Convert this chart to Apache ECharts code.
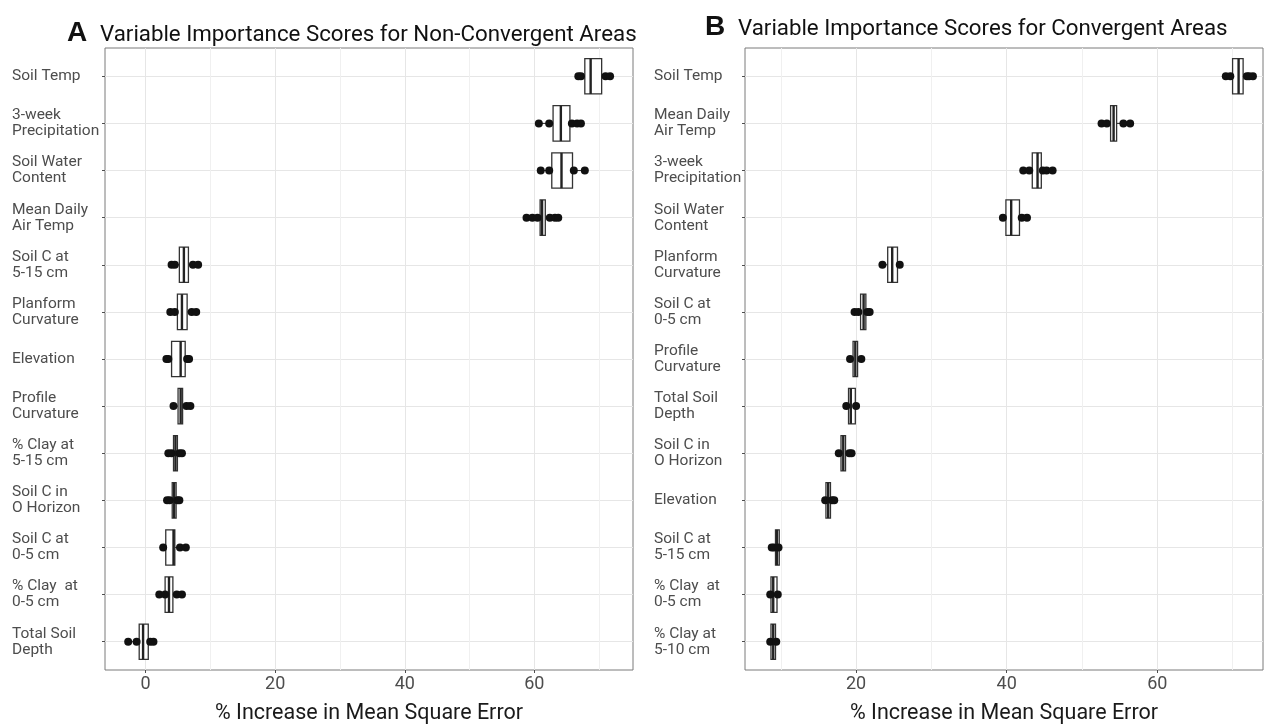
<!DOCTYPE html>
<html>
<head>
<meta charset="utf-8">
<script src="https://cdn.jsdelivr.net/npm/echarts@6/dist/echarts.min.js"></script>
<style>
html,body{margin:0;padding:0;background:#fff;}
#chart{width:1264px;height:724px;}
</style>
</head>
<body>
<div id="chart"></div>
<script>
// ---- Panel A: Non-Convergent Areas ----
const catsA = ['Soil Temp', '3-week\nPrecipitation', 'Soil Water\nContent', 'Mean Daily\nAir Temp',
  'Soil C at\n5-15 cm', 'Planform\nCurvature', 'Elevation', 'Profile\nCurvature', '% Clay at\n5-15 cm',
  'Soil C in\nO Horizon', 'Soil C at\n0-5 cm', '% Clay  at\n0-5 cm', 'Total Soil\nDepth'];
// [whisker low, Q1, median, Q3, whisker high]
const boxA = [
  [66.8, 67.8, 68.7, 70.4, 71.7],
  [60.7, 62.9, 64.1, 65.5, 67.2],
  [61.0, 62.7, 64.2, 65.9, 67.8],
  [58.8, 60.9, 61.2, 61.7, 63.7],
  [4.0, 5.2, 5.9, 6.6, 8.1],
  [3.8, 4.9, 5.6, 6.4, 7.8],
  [3.2, 4.0, 5.4, 6.1, 6.7],
  [4.3, 5.0, 5.4, 5.7, 6.9],
  [3.5, 4.3, 4.6, 4.9, 5.6],
  [3.3, 4.1, 4.4, 4.7, 5.2],
  [2.7, 3.1, 4.3, 4.5, 6.2],
  [2.1, 3.0, 3.6, 4.2, 5.6],
  [-2.7, -1.0, -0.4, 0.4, 1.2]
];
const dotsA = [
  [66.8, 67.2, 71.0, 71.7],
  [60.7, 62.3, 65.8, 66.6, 67.2],
  [61.0, 62.3, 66.1, 67.8],
  [58.8, 59.7, 60.5, 62.4, 63.2, 63.7],
  [4.0, 4.5, 7.3, 8.1],
  [3.8, 4.5, 7.1, 7.8],
  [3.2, 3.5, 6.4, 6.7],
  [4.3, 6.3, 6.9],
  [3.5, 4.0, 5.2, 5.6],
  [3.3, 3.7, 4.9, 5.2],
  [2.7, 5.3, 6.2],
  [2.1, 3.0, 4.8, 5.6],
  [-2.7, -1.4, 0.7, 1.2]
];
const ticksA = [0, 20, 40, 60];

// ---- Panel B: Convergent Areas ----
const catsB = ['Soil Temp', 'Mean Daily\nAir Temp', '3-week\nPrecipitation', 'Soil Water\nContent',
  'Planform\nCurvature', 'Soil C at\n0-5 cm', 'Profile\nCurvature', 'Total Soil\nDepth',
  'Soil C in\nO Horizon', 'Elevation', 'Soil C at\n5-15 cm', '% Clay  at\n0-5 cm', '% Clay at\n5-10 cm'];
const boxB = [
  [69.1, 70.0, 70.8, 71.4, 72.7],
  [52.6, 53.8, 54.2, 54.6, 56.4],
  [42.2, 43.4, 44.1, 44.6, 46.1],
  [39.5, 39.9, 40.6, 41.7, 42.7],
  [23.5, 24.2, 24.8, 25.5, 25.8],
  [19.8, 20.6, 21.0, 21.3, 21.8],
  [19.2, 19.6, 19.9, 20.2, 20.7],
  [18.7, 19.0, 19.3, 19.9, 20.0],
  [17.7, 18.0, 18.3, 18.6, 19.4],
  [15.9, 16.0, 16.3, 16.6, 17.1],
  [8.8, 9.3, 9.5, 9.8, 9.8],
  [8.6, 8.7, 9.0, 9.5, 9.6],
  [8.6, 8.7, 9.0, 9.3, 9.4]
];
const dotsB = [
  [69.1, 69.7, 71.9, 72.2, 72.7],
  [52.6, 53.3, 55.5, 56.4],
  [42.2, 43.0, 44.8, 45.3, 46.1],
  [39.5, 42.0, 42.7],
  [23.5, 25.8],
  [19.8, 20.3, 21.5, 21.8],
  [19.2, 20.7],
  [18.7, 20.0],
  [17.7, 19.1, 19.4],
  [15.9, 16.8, 17.1],
  [8.8, 9.1, 9.7],
  [8.6, 9.6],
  [8.6, 9.4]
];
const ticksB = [20, 40, 60];

const xTitle = '% Increase in Mean Square Error';
const catIdx = [0,1,2,3,4,5,6,7,8,9,10,11,12];

function renderBox(params, api) {
  const idx = api.value(0);
  const lo = api.coord([api.value(1), idx]);
  const q1 = api.coord([api.value(2), idx]);
  const md = api.coord([api.value(3), idx]);
  const q3 = api.coord([api.value(4), idx]);
  const hi = api.coord([api.value(5), idx]);
  const h = api.size([0, 1])[1] * 0.75;
  const y = md[1];
  const stroke = '#333333';
  return {
    type: 'group',
    children: [
      {type: 'line', shape: {x1: lo[0], y1: y, x2: q1[0], y2: y}, style: {stroke: stroke, lineWidth: 1.1}},
      {type: 'line', shape: {x1: q3[0], y1: y, x2: hi[0], y2: y}, style: {stroke: stroke, lineWidth: 1.1}},
      {type: 'rect', shape: {x: q1[0], y: y - h / 2, width: q3[0] - q1[0], height: h},
        style: {fill: '#ffffff', stroke: stroke, lineWidth: 1.3}},
      {type: 'line', shape: {x1: md[0], y1: y - h / 2, x2: md[0], y2: y + h / 2},
        style: {stroke: '#222222', lineWidth: 2.4}}
    ]
  };
}

function xAxisCfg(gridIndex, min, max, ticks) {
  return {
    type: 'value', gridIndex: gridIndex, min: min, max: max,
    minInterval: 20, maxInterval: 20,
    name: xTitle, nameLocation: 'middle', nameGap: 33,
    nameTextStyle: {fontFamily: 'Roboto', fontSize: 21.5, color: '#1a1a1a'},
    axisLine: {show: false, onZero: false},
    axisTick: {show: true, length: 3, customValues: ticks, lineStyle: {color: '#4d4d4d', width: 1}},
    axisLabel: {customValues: ticks, margin: 5, fontFamily: 'Roboto', fontSize: 18, color: '#4d4d4d'},
    splitLine: {show: true, lineStyle: {color: '#e6e6e6', width: 1}},
    minorTick: {show: false, splitNumber: 2},
    minorSplitLine: {show: true, lineStyle: {color: '#f0f0f0', width: 1}}
  };
}

function yAxisCfg(gridIndex, cats, margin) {
  return {
    type: 'value', gridIndex: gridIndex, inverse: true, min: -0.6, max: 12.6,
    minInterval: 1, maxInterval: 1,
    axisLine: {show: false, onZero: false},
    axisTick: {show: true, length: 3, customValues: catIdx, lineStyle: {color: '#4d4d4d', width: 1}},
    axisLabel: {
      customValues: catIdx, align: 'left', margin: margin,
      fontFamily: 'Roboto', fontSize: 15.5, lineHeight: 16, color: '#4d4d4d',
      formatter: function (v) { return cats[Math.round(v)] || ''; }
    },
    splitLine: {show: true, lineStyle: {color: '#e6e6e6', width: 1}}
  };
}

function dotData(dots) {
  const out = [];
  dots.forEach(function (arr, i) { arr.forEach(function (v) { out.push([v, i]); }); });
  return out;
}

const chart = echarts.init(document.getElementById('chart'), null, {renderer: 'canvas'});
chart.setOption({
  animation: false,
  backgroundColor: '#ffffff',
  grid: [
    {left: 105, top: 48, width: 528, height: 622, show: true, borderColor: '#7a7a7a', borderWidth: 1,
      backgroundColor: 'transparent', containLabel: false, outerBoundsMode: 'none'},
    {left: 745, top: 48, width: 518, height: 622, show: true, borderColor: '#7a7a7a', borderWidth: 1,
      backgroundColor: 'transparent', containLabel: false, outerBoundsMode: 'none'}
  ],
  xAxis: [
    xAxisCfg(0, -6.28, 75.24, ticksA),
    xAxisCfg(1, 5.25, 74.04, ticksB)
  ],
  yAxis: [
    yAxisCfg(0, catsA, 93),
    yAxisCfg(1, catsB, 91)
  ],
  graphic: [
    {type: 'text', x: 67, y: 33, style: {text: 'A', font: 'bold 28px "Liberation Sans"', fill: '#111', verticalAlign: 'middle'}},
    {type: 'text', x: 100, y: 35, style: {text: 'Variable Importance Scores for Non-Convergent Areas', font: '22.3px Roboto', fill: '#111', verticalAlign: 'middle'}},
    {type: 'text', x: 705, y: 27, style: {text: 'B', font: 'bold 28px "Liberation Sans"', fill: '#111', verticalAlign: 'middle'}},
    {type: 'text', x: 738, y: 29, style: {text: 'Variable Importance Scores for Convergent Areas', font: '22.3px Roboto', fill: '#111', verticalAlign: 'middle'}}
  ],
  series: [
    {type: 'custom', xAxisIndex: 0, yAxisIndex: 0, renderItem: renderBox,
      encode: {x: [1, 2, 3, 4, 5], y: 0}, data: boxA.map(function (b, i) { return [i].concat(b); }), z: 2},
    {type: 'scatter', xAxisIndex: 0, yAxisIndex: 0, data: dotData(dotsA), symbolSize: 8,
      itemStyle: {color: '#111111', opacity: 1}, z: 3},
    {type: 'custom', xAxisIndex: 1, yAxisIndex: 1, renderItem: renderBox,
      encode: {x: [1, 2, 3, 4, 5], y: 0}, data: boxB.map(function (b, i) { return [i].concat(b); }), z: 2},
    {type: 'scatter', xAxisIndex: 1, yAxisIndex: 1, data: dotData(dotsB), symbolSize: 8,
      itemStyle: {color: '#111111', opacity: 1}, z: 3}
  ]
});
</script>
</body>
</html>
